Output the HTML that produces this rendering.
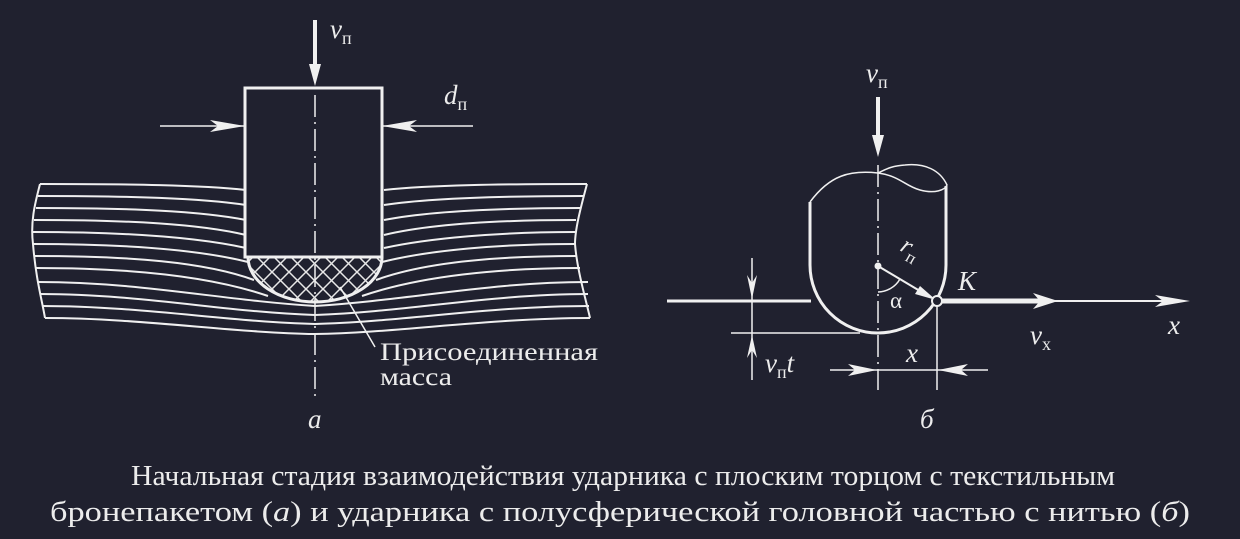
<!DOCTYPE html>
<html><head><meta charset="utf-8">
<style>
html,body{margin:0;padding:0;background:#20212f;}
svg{display:block;}
text{fill:#ececec;font-family:"Liberation Serif","DejaVu Serif",serif;}
.it{font-style:italic;}
</style></head>
<body>
<svg width="1240" height="539" viewBox="0 0 1240 539" font-family="Liberation Serif, DejaVu Serif, serif">
<defs>
<clipPath id="hemi"><path d="M248,257 L382,257 A67,45 0 0 1 248,257 Z"/></clipPath>
<pattern id="hatch" width="17" height="17" patternUnits="userSpaceOnUse">
<path d="M0,0 L17,17 M17,0 L0,17" stroke="#e8e8e8" stroke-width="1.5"/>
</pattern>
</defs>

<!-- LEFT DIAGRAM -->
<g stroke="#f0f0f0" fill="none">
  <g stroke-width="2">
    <path d="M40,184 C130,184 200,185 246,190"/>
    <path d="M38,196 C130,196 200,198 246,205"/>
    <path d="M36,208 C130,208 200,211 246,220"/>
    <path d="M34,220 C130,220 200,224 246,235"/>
    <path d="M33,232 C130,232 200,238 246,248"/>
    <path d="M33,244 C130,244 200,250 248,262"/>
    <path d="M34,256 C130,256 205,262 254,280"/>
    <path d="M36,268 C130,268 210,276 268,296"/>
    <path d="M38,282 C140,282 220,300 315,306 C410,300 490,282 588,282"/>
    <path d="M40,294 C140,294 225,312 315,315 C405,312 490,294 588,294"/>
    <path d="M42,306 C140,306 230,322 315,324 C400,322 490,306 589,306"/>
    <path d="M45,318 C140,318 235,333 315,334 C395,333 490,318 590,318"/>
    <path d="M384,190 C430,185 500,184 587,184"/>
    <path d="M384,205 C430,198 500,196 584,196"/>
    <path d="M384,220 C430,211 500,208 580,208"/>
    <path d="M384,235 C430,224 500,220 576,220"/>
    <path d="M384,248 C430,238 500,232 575,232"/>
    <path d="M382,262 C430,250 500,244 575,244"/>
    <path d="M376,280 C425,262 500,256 577,256"/>
    <path d="M362,296 C420,276 500,268 580,268"/>
    <path d="M40,184 C36,200 30,220 33,244 C36,280 42,300 45,318"/>
    <path d="M587,184 C580,210 575,230 575,244 C577,270 586,300 590,318"/>
  </g>
  <rect x="245" y="88" width="137" height="169" fill="#20212f" stroke-width="3"/>
  <rect x="248" y="257" width="134" height="50" fill="url(#hatch)" clip-path="url(#hemi)" stroke="none"/>
  <path d="M248,257 L382,257 M248,257 A67,45 0 0 0 382,257" stroke-width="3"/>
  <path d="M315,95 V400" stroke-width="1.5" stroke-dasharray="22,5,2,5"/>
  <path d="M315,20 V70" stroke-width="4"/>
  <path d="M309,64 L315,86 L321,64 Z" fill="#f0f0f0" stroke="none"/>
  <path d="M160,126 H245 M382,126 H473" stroke-width="1.5"/>
  <path d="M210,120 L245,126 L210,132 L218,126 Z M417,120 L382,126 L417,132 L409,126 Z" fill="#f0f0f0" stroke="none"/>
  <path d="M340,287 L375,347" stroke-width="1.5"/>
</g>
<text class="it" x="330" y="38" font-size="27">v<tspan font-style="normal" font-size="18" dy="6">п</tspan></text>
<text class="it" x="444" y="104" font-size="27">d<tspan font-style="normal" font-size="18" dy="6">п</tspan></text>
<text x="380" y="360" font-size="25" textLength="218" lengthAdjust="spacingAndGlyphs">Присоединенная</text>
<text x="380" y="385" font-size="25" textLength="72" lengthAdjust="spacingAndGlyphs">масса</text>
<text class="it" x="308" y="428" font-size="27">a</text>

<!-- RIGHT DIAGRAM -->
<g stroke="#f0f0f0" fill="none">
  <path d="M810,202 V265 A68,68 0 0 0 946,265 V186" stroke-width="3"/>
  <path d="M810,202 C830,175 850,170 878,173 C900,176 905,186 920,190 C935,194 945,190 947,185 C940,170 925,163 905,165 C890,166 885,170 878,173" stroke-width="1.5"/>
  <path d="M878,165 V390" stroke-width="1.5" stroke-dasharray="22,5,2,5"/>
  <path d="M878,97 V140" stroke-width="4"/>
  <path d="M872,135 L878,157 L884,135 Z" fill="#f0f0f0" stroke="none"/>
  <path d="M667,301 H811" stroke-width="3"/>
  <path d="M937,301 H1040" stroke-width="5"/>
  <path d="M1033,293 L1058,301 L1033,309 L1040,301 Z" fill="#f0f0f0" stroke="none"/>
  <path d="M1055,301 H1175" stroke-width="2"/>
  <path d="M1155,295 L1190,301 L1155,307 L1163,301 Z" fill="#f0f0f0" stroke="none"/>
  <path d="M878,266 L925,294" stroke-width="2"/>
  <path d="M920,286 L936,300 L915,294 Z" fill="#f0f0f0" stroke="none"/>
  <path d="M878,292 A26,26 0 0 0 900,279" stroke-width="1.5"/>
  <circle cx="878" cy="266" r="3.5" fill="#f0f0f0" stroke="none"/>
  <circle cx="937" cy="301" r="5" fill="#20212f" stroke-width="2"/>
  <path d="M752,258 V380 M731,333 H860" stroke-width="1.5"/>
  <path d="M747,275 L752,299 L757,275 L752,283 Z M747,358 L752,335 L757,358 L752,350 Z" fill="#f0f0f0" stroke="none"/>
  <path d="M830,370 H988 M937,305 V390" stroke-width="1.5"/>
  <path d="M848,364 L877,370 L848,376 L855,370 Z M968,364 L938,370 L968,376 L961,370 Z" fill="#f0f0f0" stroke="none"/>
</g>
<text class="it" x="866" y="82" font-size="27">v<tspan font-style="normal" font-size="18" dy="6">п</tspan></text>
<text class="it" x="899" y="250" font-size="25" transform="rotate(30 899 250)">r<tspan font-style="normal" font-size="17" dy="6">п</tspan></text>
<text x="890" y="308" font-size="23">α</text>
<text class="it" x="958" y="290" font-size="27">K</text>
<text class="it" x="1030" y="344" font-size="27">v<tspan font-style="normal" font-size="18" dy="6">x</tspan></text>
<text class="it" x="1168" y="334" font-size="27">x</text>
<text class="it" x="906" y="362" font-size="27">x</text>
<text class="it" x="765" y="372" font-size="27">v<tspan font-style="normal" font-size="18" dy="6">п</tspan><tspan dy="-6">t</tspan></text>
<text class="it" x="920" y="428" font-size="27">б</text>

<!-- CAPTION -->
<text x="131" y="485" font-size="29" textLength="984" lengthAdjust="spacingAndGlyphs">Начальная стадия взаимодействия ударника с плоским торцом с текстильным</text>
<text x="50" y="521" font-size="29" textLength="1140" lengthAdjust="spacingAndGlyphs">бронепакетом (<tspan class="it">а</tspan>) и ударника с полусферической головной частью с нитью (<tspan class="it">б</tspan>)</text>
</svg>
</body></html>
